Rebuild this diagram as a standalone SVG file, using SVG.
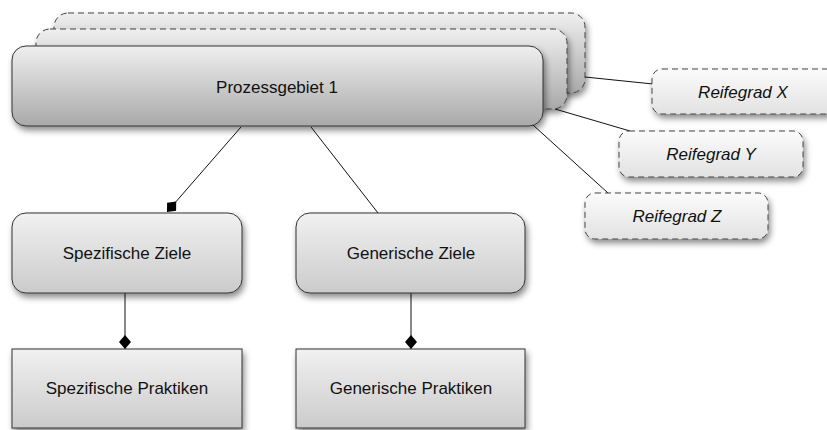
<svg xmlns="http://www.w3.org/2000/svg" width="827" height="430" viewBox="0 0 827 430">
<defs>
<linearGradient id="gMain" x1="0" y1="0" x2="0" y2="1">
<stop offset="0" stop-color="#efefef"/><stop offset="1" stop-color="#a9a9a9"/>
</linearGradient>
<linearGradient id="gBox" x1="0" y1="0" x2="0" y2="1">
<stop offset="0" stop-color="#f1f1f1"/><stop offset="1" stop-color="#cbcbcb"/>
</linearGradient>
<linearGradient id="gLight" x1="0" y1="0" x2="0" y2="1">
<stop offset="0" stop-color="#fbfbfb"/><stop offset="1" stop-color="#e2e2e2"/>
</linearGradient>
<filter id="sh" x="-10%" y="-20%" width="120%" height="150%">
<feDropShadow dx="2" dy="4" stdDeviation="3" flood-color="#000" flood-opacity="0.45"/>
</filter>
<marker id="dia" viewBox="0 0 14 12" refX="14" refY="6" markerWidth="14" markerHeight="12" markerUnits="userSpaceOnUse" orient="auto">
<path d="M0,6 L7,0 L14,6 L7,12 Z" fill="#000"/>
</marker>
<style>
.solid{stroke:#333;stroke-width:1;filter:url(#sh)}
.dash{stroke:#444;stroke-width:1;stroke-dasharray:6,4;filter:url(#sh)}
.t{font-family:"Liberation Sans",Arial,sans-serif;font-size:17px;fill:#111;text-anchor:middle}
.ti{font-style:italic}
.c{stroke:#111;stroke-width:1;fill:none}
</style>
</defs>

<g id="prozessgebiet-back3">
<rect class="dash" x="54" y="13" width="531" height="80" rx="14" fill="url(#gMain)"/>
</g>
<g id="prozessgebiet-back2">
<rect class="dash" x="36" y="29" width="531" height="80" rx="14" fill="url(#gMain)"/>
</g>
<g id="prozessgebiet-1">
<rect class="solid" x="12" y="46" width="531" height="80" rx="14" fill="url(#gMain)"/>
<text class="t" x="277" y="93">Prozessgebiet 1</text>
</g>

<g id="connectors">
<line class="c" x1="585" y1="77" x2="653" y2="84"/>
<line class="c" x1="555" y1="109" x2="630" y2="131"/>
<line class="c" x1="533" y1="125" x2="608" y2="193"/>
<line class="c" x1="241" y1="127" x2="167" y2="212" marker-end="url(#dia)"/>
<line class="c" x1="311" y1="127" x2="378" y2="213"/>
<line class="c" x1="125" y1="293" x2="125" y2="349" marker-end="url(#dia)"/>
<line class="c" x1="411" y1="293" x2="411" y2="349" marker-end="url(#dia)"/>
</g>

<g id="reifegrad-x">
<rect class="dash" x="652" y="69" width="184" height="45" rx="10" fill="url(#gLight)"/>
<text class="t ti" x="743" y="98">Reifegrad X</text>
</g>
<g id="reifegrad-y">
<rect class="dash" x="619" y="131" width="184" height="46" rx="10" fill="url(#gLight)"/>
<text class="t ti" x="711" y="160">Reifegrad Y</text>
</g>
<g id="reifegrad-z">
<rect class="dash" x="585" y="193" width="183" height="46" rx="10" fill="url(#gLight)"/>
<text class="t ti" x="677" y="222">Reifegrad Z</text>
</g>

<g id="spezifische-ziele">
<rect class="solid" x="12" y="213" width="230" height="80" rx="14" fill="url(#gBox)"/>
<text class="t" x="127" y="259">Spezifische Ziele</text>
</g>
<g id="generische-ziele">
<rect class="solid" x="296" y="213" width="229" height="80" rx="14" fill="url(#gBox)"/>
<text class="t" x="411" y="259">Generische Ziele</text>
</g>
<g id="spezifische-praktiken">
<rect class="solid" x="12" y="349" width="230" height="79" fill="url(#gBox)"/>
<text class="t" x="127" y="394">Spezifische Praktiken</text>
</g>
<g id="generische-praktiken">
<rect class="solid" x="296" y="349" width="229" height="79" fill="url(#gBox)"/>
<text class="t" x="411" y="394">Generische Praktiken</text>
</g>
</svg>
